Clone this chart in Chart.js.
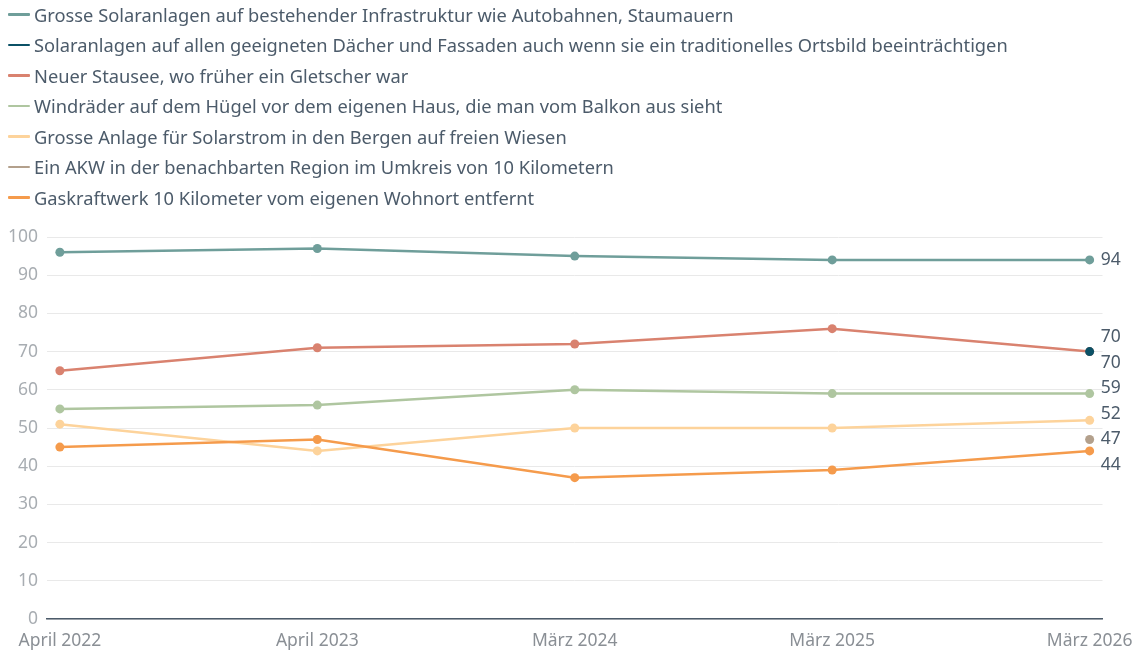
<!DOCTYPE html>
<html>
<head>
<meta charset="utf-8">
<script src="https://cdn.jsdelivr.net/npm/chart.js@4"></script>
<style>
  body { margin: 0; background: #fff; font-family: "Noto Sans", sans-serif; }
  #wrap { position: relative; width: 1145px; height: 650px; }
  #legend { position: absolute; left: 8px; top: -1px; z-index: 2; }
  .item { height: 30.5px; display: flex; align-items: center; color: #4c5b6a; font-size: 18.3px; white-space: nowrap; }
  .item span.sw { display: inline-block; width: 22px; height: 2.5px; margin-right: 4px; border-radius: 1px; }
  canvas { position: absolute; left: 0; top: 0; }
</style>
</head>
<body>
<div id="wrap">
  <div id="legend"></div>
  <canvas id="myChart" width="1145" height="650"></canvas>
</div>
<script>
// Data
var periods = ["April 2022", "April 2023", "März 2024", "März 2025", "März 2026"];

var seriesNames = [
  "Grosse Solaranlagen auf bestehender Infrastruktur wie Autobahnen, Staumauern",
  "Solaranlagen auf allen geeigneten Dächer und Fassaden auch wenn sie ein traditionelles Ortsbild beeinträchtigen",
  "Neuer Stausee, wo früher ein Gletscher war",
  "Windräder auf dem Hügel vor dem eigenen Haus, die man vom Balkon aus sieht",
  "Grosse Anlage für Solarstrom in den Bergen auf freien Wiesen",
  "Ein AKW in der benachbarten Region im Umkreis von 10 Kilometern",
  "Gaskraftwerk 10 Kilometer vom eigenen Wohnort entfernt"
];

var infrastruktur = [96, 97, 95, 94, 94];
var daecher = [null, null, null, null, 70];
var stausee = [65, 71, 72, 76, 70];
var windraeder = [55, 56, 60, 59, 59];
var solarBerge = [51, 44, 50, 50, 52];
var akw = [null, null, null, null, 47];
var gaskraftwerk = [45, 47, 37, 39, 44];

var yTicks = [0, 10, 20, 30, 40, 50, 60, 70, 80, 90, 100];

var colors = ["#6f9e9a", "#0b5166", "#d9826f", "#afc6a0", "#fdd39b", "#b3a08c", "#f59b4c"];
// lower = drawn on top
var drawOrder = [0, 1, 2, 3, 5, 6, 4];
var allSeries = [infrastruktur, daecher, stausee, windraeder, solarBerge, akw, gaskraftwerk];

//Legend
var legend = document.getElementById("legend");
seriesNames.forEach(function (name, i) {
  var row = document.createElement("div");
  row.className = "item";
  row.innerHTML = '<span class="sw" style="background:' + colors[i] + '"></span>' + name;
  legend.appendChild(row);
});

//End labels with simple collision avoidance
var endLabels = {
  id: "endLabels",
  afterDatasetsDraw: function (chart) {
    var ctx = chart.ctx;
    var items = [];
    chart.data.datasets.forEach(function (ds, i) {
      var last = ds.data.length - 1;
      var pt = chart.getDatasetMeta(i).data[last];
      if (ds.data[last].y == null) return;
      items.push({ y: pt.y, x: pt.x, text: String(ds.data[last].y) });
    });
    items.sort(function (a, b) { return a.y - b.y; });
    var gap = 25.5;
    var groups = items.map(function (it) { return { items: [it] }; });
    function place(g) {
      var m = g.items.reduce(function (s, it) { return s + it.y; }, 0) / g.items.length;
      g.top = m - (g.items.length - 1) * gap / 2;
      g.bottom = m + (g.items.length - 1) * gap / 2;
    }
    groups.forEach(place);
    var merged = true;
    while (merged) {
      merged = false;
      for (var k = 0; k < groups.length - 1; k++) {
        if (groups[k].bottom + gap > groups[k + 1].top) {
          groups[k].items = groups[k].items.concat(groups[k + 1].items);
          groups.splice(k + 1, 1);
          place(groups[k]);
          merged = true;
          break;
        }
      }
    }
    ctx.save();
    ctx.font = "17.5px 'Noto Sans'";
    ctx.fillStyle = "#4c5b6a";
    ctx.textAlign = "left";
    ctx.textBaseline = "middle";
    groups.forEach(function (g) {
      g.items.forEach(function (it, j) {
        ctx.fillText(it.text, it.x + 11, g.top + j * gap);
      });
    });
    ctx.restore();
  }
};

var ctx = document.getElementById("myChart").getContext("2d");
var chart = new Chart(ctx, {
  type: "line",
  data: {
    datasets: allSeries.map(function (vals, i) {
      return {
        label: seriesNames[i],
        data: vals.map(function (v, j) { return { x: j, y: v }; }),
        order: drawOrder[i],
        borderColor: colors[i],
        backgroundColor: colors[i],
        borderWidth: 2.5,
        pointRadius: 4.5,
        pointHoverRadius: 4.5,
        pointBorderWidth: 0,
        spanGaps: false,
        tension: 0
      };
    })
  },
  options: {
    responsive: false,
    animation: false,
    events: [],
    layout: { padding: { top: 237, right: 41, bottom: 0, left: 0 } },
    plugins: { legend: { display: false }, tooltip: { enabled: false } },
    scales: {
      x: {
        type: "linear",
        min: -0.05,
        max: 4.05,
        afterBuildTicks: function (scale) {
          scale.ticks = periods.map(function (p, i) { return { value: i }; });
        },
        afterFit: function (scale) { scale.height = 31; },
        ticks: {
          padding: 12,
          maxRotation: 0,
          autoSkip: false,
          color: "#8a8f95",
          font: { family: "Noto Sans", size: 17.5 },
          callback: function (v) { return periods[v]; }
        },
        grid: { display: false, drawTicks: false },
        border: { display: true, color: "#4c5b6a", width: 1.5 }
      },
      y: {
        min: 0,
        max: 100,
        afterBuildTicks: function (scale) {
          scale.ticks = yTicks.map(function (v) { return { value: v }; });
        },
        afterFit: function (scale) { scale.width = 47; },
        ticks: {
          padding: 9,
          color: "#a8adb2",
          font: { family: "Noto Sans", size: 17.5 }
        },
        grid: { color: "#e9e9e9", lineWidth: 1, drawTicks: false },
        border: { display: false }
      }
    }
  },
  plugins: [endLabels]
});
</script>
</body>
</html>
